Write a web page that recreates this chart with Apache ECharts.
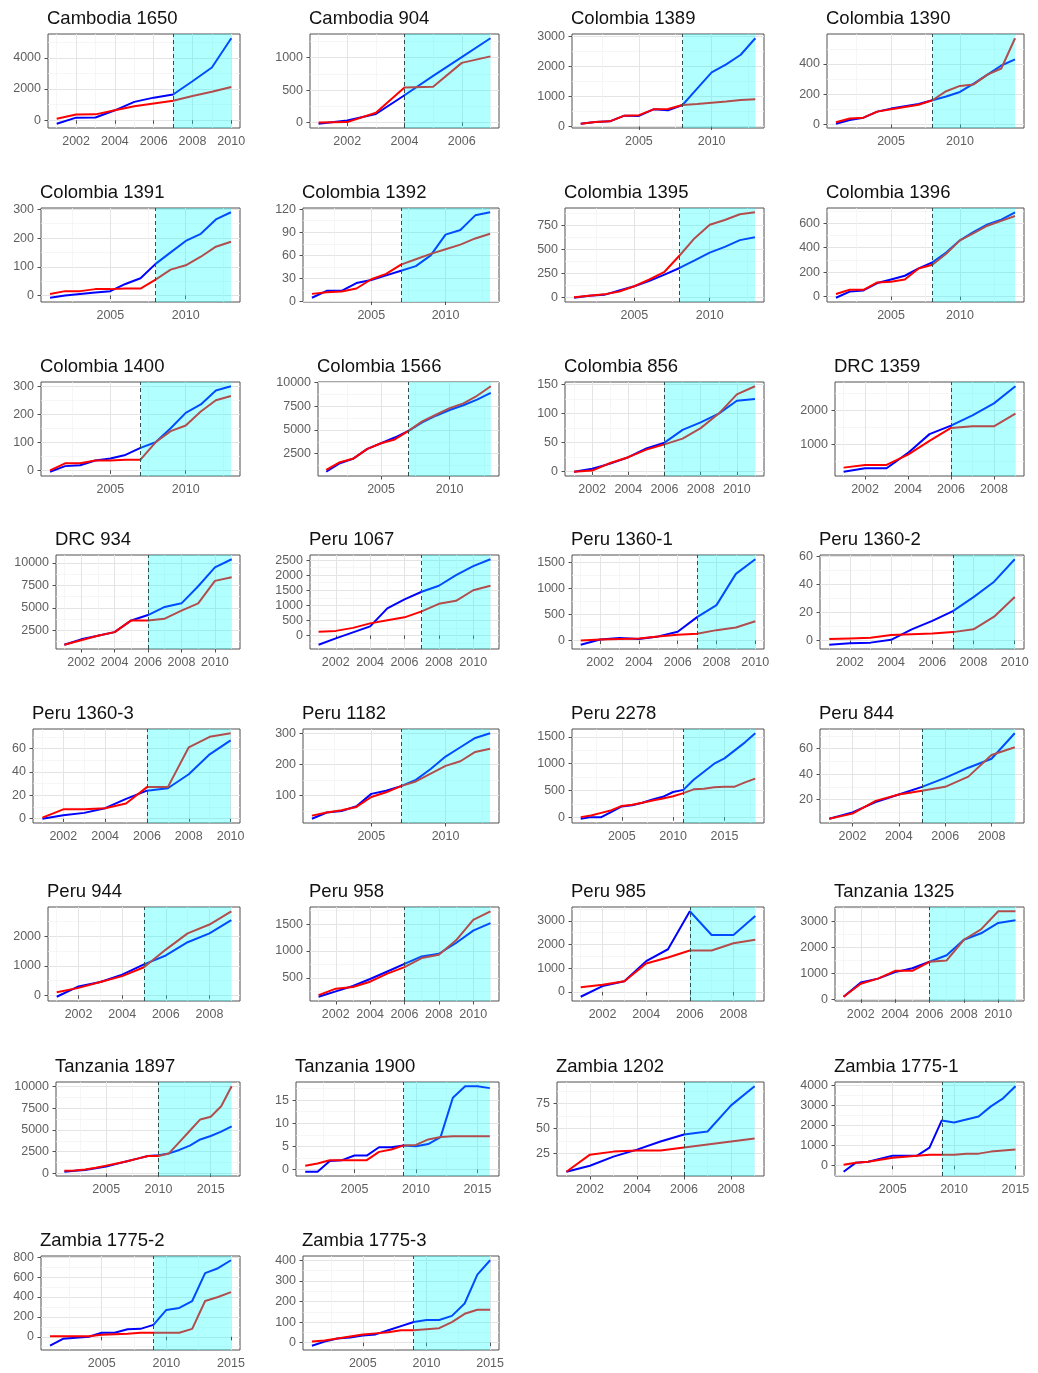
<!DOCTYPE html>
<html><head><meta charset="utf-8">
<script src="https://cdn.jsdelivr.net/npm/echarts@6/dist/echarts.min.js"></script>
<style>html,body{margin:0;padding:0;background:#fff}#c{width:1038px;height:1373px}</style>
</head><body><div id="c"></div>
<script>
// ---------- DATA ----------
const titles = ["Cambodia 1650","Cambodia 904","Colombia 1389","Colombia 1390",
"Colombia 1391","Colombia 1392","Colombia 1395","Colombia 1396",
"Colombia 1400","Colombia 1566","Colombia 856","DRC 1359",
"DRC 934","Peru 1067","Peru 1360-1","Peru 1360-2",
"Peru 1360-3","Peru 1182","Peru 2278","Peru 844",
"Peru 944","Peru 958","Peru 985","Tanzania 1325",
"Tanzania 1897","Tanzania 1900","Zambia 1202","Zambia 1775-1",
"Zambia 1775-2","Zambia 1775-3"];
const cutoffs = [2007,2004,2008,2008, 2008,2007,2008,2008, 2007,2007,2006,2006, 2006,2007,2007,2007,
2006,2007,2011,2005, 2005,2006,2006,2006, 2010,2009,2006,2009, 2009,2009];

const years7  = [2001,2002,2003,2004,2005,2006,2007];
const years9  = [2001,2002,2003,2004,2005,2006,2007,2008,2009];
const years10 = [2001,2002,2003,2004,2005,2006,2007,2008,2009,2010];
const years11 = [2001,2002,2003,2004,2005,2006,2007,2008,2009,2010,2011];
const years13 = [2001,2002,2003,2004,2005,2006,2007,2008,2009,2010,2011,2012,2013];
const years14 = [2001,2002,2003,2004,2005,2006,2007,2008,2009,2010,2011,2012,2013,2014];
const years15 = [2001,2002,2003,2004,2005,2006,2007,2008,2009,2010,2011,2012,2013,2014,2015];
const years16 = [2001,2002,2003,2004,2005,2006,2007,2008,2009,2010,2011,2012,2013,2014,2015,2016];
const years17 = [2001,2002,2003,2004,2005,2006,2007,2008,2009,2010,2011,2012,2013,2014,2015,2016,2017];
const years18 = [2001,2002,2003,2004,2005,2006,2007,2008,2009,2010,2011,2012,2013,2014,2015,2016,2017,2018];

// x tick labels
const xTicksA = [2002,2004,2006,2008,2010];
const xTicksB = [2002,2004,2006];
const xTicksC = [2002,2004,2006,2008];
const xTicksD = [2005,2010];
const xTicksE = [2005,2010,2015];

// series values (blue, red) and y tick labels
const blue01 = [-220,170,180,640,1180,1450,1650,2500,3380,5250];
const red01  = [100,370,380,640,900,1080,1250,1560,1830,2130];
const yTicks01 = [0,2000,4000];

const blue02 = [-20,30,130,420,720,1010,1300];
const red02  = [0,5,150,540,550,920,1020];
const yTicks02 = [0,500,1000];

const blue03 = [90,150,170,360,350,570,540,715,1260,1800,2070,2390,2940];
const red03  = [90,150,170,360,375,570,580,715,750,790,830,885,905];
const yTicks03 = [0,1000,2000,3000];

const blue04 = [5,30,45,85,105,120,135,160,185,215,270,330,390,430];
const red04  = [15,40,45,85,100,115,130,160,220,255,265,330,370,570];
const yTicks04 = [0,200,400];

const blue05 = [-8,0,5,10,15,40,60,110,150,190,215,265,290];
const red05  = [5,15,15,22,22,24,24,55,90,105,135,170,187];
const yTicks05 = [0,100,200,300];

const blue06 = [5,14,14,24,28,34,40,46,60,87,93,112,116];
const red06  = [10,12,13,17,29,36,48,55,62,68,74,82,88];
const yTicks06 = [0,30,60,90,120];

const blue07 = [0,20,30,75,120,175,240,310,390,470,530,600,630];
const red07  = [5,20,35,65,120,190,270,440,620,760,810,870,890];
const yTicks07 = [0,250,500,750];

const blue08 = [-10,40,50,110,140,170,230,280,360,460,530,590,630,690];
const red08  = [20,55,55,115,120,140,230,260,350,460,520,580,620,660];
const yTicks08 = [0,200,400,600];

const blue09 = [-5,15,18,35,42,55,80,100,150,205,235,285,300];
const red09  = [0,25,25,35,35,38,38,100,140,160,210,250,265];
const yTicks09 = [0,100,200,300];

const blue10 = [600,1500,2000,3000,3600,4200,4900,5800,6500,7100,7600,8200,8900];
const red10  = [800,1600,2000,3000,3600,4000,4900,5900,6600,7300,7800,8600,9600];
const yTicks10 = [0,2500,5000,7500,10000];

const blue11 = [0,5,14,25,40,50,72,85,100,122,125];
const red11  = [0,2,15,25,38,47,57,75,100,133,147];
const yTicks11 = [0,50,100,150];

const blue12 = [200,300,300,750,1300,1550,1850,2200,2700];
const red12  = [320,400,400,700,1100,1480,1530,1530,1900];
const yTicks12 = [0,1000,2000,3000];

const blue13 = [900,1500,1900,2300,3600,4200,5100,5500,7400,9500,10400];
const red13  = [900,1400,1900,2300,3600,3600,3800,4700,5500,8000,8400];
const yTicks13 = [0,2500,5000,7500,10000];

const blue14 = [-310,-100,100,300,900,1200,1450,1650,2000,2300,2530];
const red14  = [120,150,250,400,500,600,800,1050,1150,1500,1650];
const yTicks14 = [0,500,1000,1500,2000,2500];

const blue15 = [-80,20,50,30,80,170,450,680,1280,1560];
const red15  = [0,20,30,40,80,110,130,200,250,370];
const yTicks15 = [0,500,1000,1500];

const blue16 = [-3,-2,-1.5,0.5,8,14,21,31,42,58];
const red16  = [1,1.5,2,4,4.5,5,6,8,17,31];
const yTicks16 = [0,20,40,60];

const blue17 = [0,3,5,9,17,24,26,38,55,67];
const red17  = [1,8,8,9,13,27,27,61,70,73];
const yTicks17 = [0,20,40,60];

const blue18 = [25,45,50,65,105,115,130,150,185,225,255,285,300];
const red18  = [35,45,52,63,95,110,130,145,170,195,210,240,250];
const yTicks18 = [0,100,200,300];

const blue19 = [-30,0,0,100,200,220,270,330,380,470,510,700,850,1000,1100,1250,1400,1570];
const red19  = [0,30,80,130,210,230,270,310,350,390,450,520,530,560,570,570,650,720];
const yTicks19 = [0,500,1000,1500];

const blue20 = [5,10,18,24,30,37,45,52,72];
const red20  = [5,9,19,24,27,30,38,55,61];
const yTicks20 = [0,20,40,60];

const blue21 = [-50,300,450,700,1050,1350,1800,2100,2550];
const red21  = [100,250,450,650,950,1550,2100,2400,2850];
const yTicks21 = [0,1000,2000];

const blue22 = [150,250,350,480,620,760,900,950,1150,1380,1520];
const red22  = [180,300,330,430,580,700,870,930,1200,1580,1740];
const yTicks22 = [0,500,1000,1500];

const blue23 = [-200,250,450,1300,1800,3400,2400,2400,3200];
const red23  = [200,300,450,1200,1450,1750,1750,2050,2200];
const yTicks23 = [0,1000,2000,3000];

const blue24 = [100,650,800,1050,1200,1450,1700,2300,2550,2950,3050];
const red24  = [100,600,800,1100,1100,1450,1500,2300,2700,3400,3400];
const yTicks24 = [0,1000,2000,3000];

const blue25 = [200,300,400,600,800,1100,1400,1700,2000,2100,2300,2700,3200,3900,4300,4800,5400];
const red25  = [300,350,450,650,900,1150,1400,1700,2000,2000,2300,3600,4900,6200,6500,7700,10000];
const yTicks25 = [0,2500,5000,7500,10000];

const blue26 = [-0.5,-0.5,1.8,2,3,3,4.8,4.8,5.2,5,5.5,7,15.5,18,18,17.6];
const red26  = [0.8,1.3,2,2,2,2,3.8,4.3,5.2,5.3,6.5,7,7.2,7.2,7.2,7.2];
const yTicks26 = [0,5,10,15];

const blue27 = [7,13,22,29,37,44,47,73,92];
const red27  = [7,24,27,28,28,31,34,37,40];
const yTicks27 = [0,25,50,75];

const blue28 = [-300,150,200,350,500,500,500,900,2250,2150,2300,2450,2950,3350,3950];
const red28  = [50,150,200,300,400,450,500,550,550,550,600,600,700,750,800];
const yTicks28 = [0,1000,2000,3000,4000];

const blue29 = [-90,-20,-10,0,40,40,75,80,120,270,290,360,640,690,770];
const red29  = [5,5,5,5,20,25,30,40,40,40,40,80,360,400,450];
const yTicks29 = [0,200,400,600,800];

const blue30 = [-15,5,20,25,35,40,60,80,100,110,110,130,190,330,400];
const red30  = [5,10,20,30,40,45,50,60,60,65,70,100,140,160,160];
const yTicks30 = [0,100,200,300,400];

// ---------- TABLE ----------
const panels = [
 [years10, blue01, red01, yTicks01, xTicksA],
 [years7,  blue02, red02, yTicks02, xTicksB],
 [years13, blue03, red03, yTicks03, xTicksD],
 [years14, blue04, red04, yTicks04, xTicksD],
 [years13, blue05, red05, yTicks05, xTicksD],
 [years13, blue06, red06, yTicks06, xTicksD],
 [years13, blue07, red07, yTicks07, xTicksD],
 [years14, blue08, red08, yTicks08, xTicksD],
 [years13, blue09, red09, yTicks09, xTicksD],
 [years13, blue10, red10, yTicks10, xTicksD],
 [years11, blue11, red11, yTicks11, xTicksA],
 [years9,  blue12, red12, yTicks12, xTicksC],
 [years11, blue13, red13, yTicks13, xTicksA],
 [years11, blue14, red14, yTicks14, xTicksA],
 [years10, blue15, red15, yTicks15, xTicksA],
 [years10, blue16, red16, yTicks16, xTicksA],
 [years10, blue17, red17, yTicks17, xTicksA],
 [years13, blue18, red18, yTicks18, xTicksD],
 [years18, blue19, red19, yTicks19, xTicksE],
 [years9,  blue20, red20, yTicks20, xTicksC],
 [years9,  blue21, red21, yTicks21, xTicksC],
 [years11, blue22, red22, yTicks22, xTicksA],
 [years9,  blue23, red23, yTicks23, xTicksC],
 [years11, blue24, red24, yTicks24, xTicksA],
 [years17, blue25, red25, yTicks25, xTicksE],
 [years16, blue26, red26, yTicks26, xTicksE],
 [years9,  blue27, red27, yTicks27, xTicksC],
 [years15, blue28, red28, yTicks28, xTicksE],
 [years15, blue29, red29, yTicks29, xTicksE],
 [years15, blue30, red30, yTicks30, xTicksE]
];

// ---------- LAYOUT ----------
const rowTop = [34, 208, 382, 555, 729, 907, 1082, 1256];
const colRight = [240, 499, 764, 1024];
const boxLeft = [48,310,572,827, 41,303,565,827, 41,318,565,835, 56,310,572,820,
                 33,303,572,820, 48,310,572,835, 56,296,557,835, 41,303];
const boxH = 94;
const FONT = "'Liberation Sans', Arial, Helvetica, sans-serif";

function minors(ticks, lo, hi) {
  const d = ticks[1] - ticks[0];
  const out = [];
  for (let v = ticks[0] - d * 1.5; v <= hi; v += d) { if (v >= lo) out.push(v); }
  return out;
}
function inRange(ticks, lo, hi) { return ticks.filter(v => v >= lo && v <= hi); }

const option = { animation: false, title: [], grid: [], xAxis: [], yAxis: [], series: [] };

panels.forEach((p, i) => {
  const [yrs, blue, red, yT, xT] = p;
  const row = Math.floor(i / 4), col = i % 4;
  const left = boxLeft[i], top = rowTop[row];
  const all = blue.concat(red);
  const lo = Math.min(...all), hi = Math.max(...all);
  const ymin = lo - 0.05 * (hi - lo), ymax = hi + 0.05 * (hi - lo);
  const x0 = yrs[0], x1 = yrs[yrs.length - 1];
  const xmin = x0 - 0.05 * (x1 - x0), xmax = x1 + 0.05 * (x1 - x0);
  const xMaj = inRange(xT, xmin, xmax), yMaj = inRange(yT, ymin, ymax);

  option.title.push({ text: titles[i], left: left - 1, top: top - 25, padding: 0,
    textStyle: { fontFamily: FONT, fontSize: 18.5, fontWeight: 'normal', color: '#111' } });
  option.grid.push({ left: left, top: top, width: colRight[col] - left, height: boxH,
    show: true, borderColor: '#505050', borderWidth: 1, backgroundColor: 'transparent', containLabel: false });

  const lbl = { fontFamily: FONT, fontSize: 12.5, color: '#5f5f5f', formatter: v => String(v) };
  option.xAxis.push({ type: 'value', gridIndex: i, min: xmin, max: xmax, position: 'bottom',
    axisLine: { show: false },
    axisTick: { show: true, length: 3.5, lineStyle: { color: '#505050' }, customValues: xMaj },
    axisLabel: Object.assign({ margin: 7, customValues: xMaj }, lbl),
    splitLine: { show: true, lineStyle: { color: '#e4e4e4', width: 1 } } });
  option.xAxis.push({ type: 'value', gridIndex: i, min: xmin, max: xmax, position: 'top',
    axisLine: { show: false }, axisLabel: { show: false },
    axisTick: { show: false, customValues: minors(xMaj, xmin, xmax) },
    splitLine: { show: true, lineStyle: { color: '#f2f2f2', width: 0.7 } } });
  option.yAxis.push({ type: 'value', gridIndex: i, min: ymin, max: ymax, position: 'left',
    axisLine: { show: false },
    axisTick: { show: true, length: 3.5, lineStyle: { color: '#505050' }, customValues: yMaj },
    axisLabel: Object.assign({ margin: 7, customValues: yMaj }, lbl),
    splitLine: { show: true, lineStyle: { color: '#e4e4e4', width: 1 } } });
  option.yAxis.push({ type: 'value', gridIndex: i, min: ymin, max: ymax, position: 'right',
    axisLine: { show: false }, axisLabel: { show: false },
    axisTick: { show: false, customValues: minors(yMaj, ymin, ymax) },
    splitLine: { show: true, lineStyle: { color: '#f2f2f2', width: 0.7 } } });

  const xa = 2 * i, ya = 2 * i;
  const toPairs = vals => yrs.map((y, k) => [y, vals[k]]);
  option.series.push({ type: 'line', xAxisIndex: xa, yAxisIndex: ya, data: toPairs(blue),
    symbol: 'none', lineStyle: { color: '#0000ff', width: 2 }, itemStyle: { color: '#0000ff' }, z: 2, silent: true });
  option.series.push({ type: 'line', xAxisIndex: xa, yAxisIndex: ya, data: toPairs(red),
    symbol: 'none', lineStyle: { color: '#ff0000', width: 2 }, itemStyle: { color: '#ff0000' }, z: 2, silent: true });
  option.series.push({ type: 'line', xAxisIndex: xa, yAxisIndex: ya, data: toPairs(red),
    symbol: 'none', lineStyle: { opacity: 0 }, z: 3, silent: true,
    markArea: { z: 3, silent: true, itemStyle: { color: 'rgba(0,255,255,0.3)' },
      data: [[{ xAxis: cutoffs[i] }, { xAxis: x1 }]] } });
  option.series.push({ type: 'line', xAxisIndex: xa, yAxisIndex: ya, data: toPairs(red),
    symbol: 'none', lineStyle: { opacity: 0 }, z: 4, silent: true,
    markLine: { z: 5, silent: true, symbol: ['none', 'none'], label: { show: false },
      lineStyle: { type: [4, 3], color: '#2f4f4f', width: 1 },
      data: [{ xAxis: cutoffs[i] }] } });
});

const chart = echarts.init(document.getElementById('c'), null, { renderer: 'canvas' });
chart.setOption(option);
</script></body></html>
